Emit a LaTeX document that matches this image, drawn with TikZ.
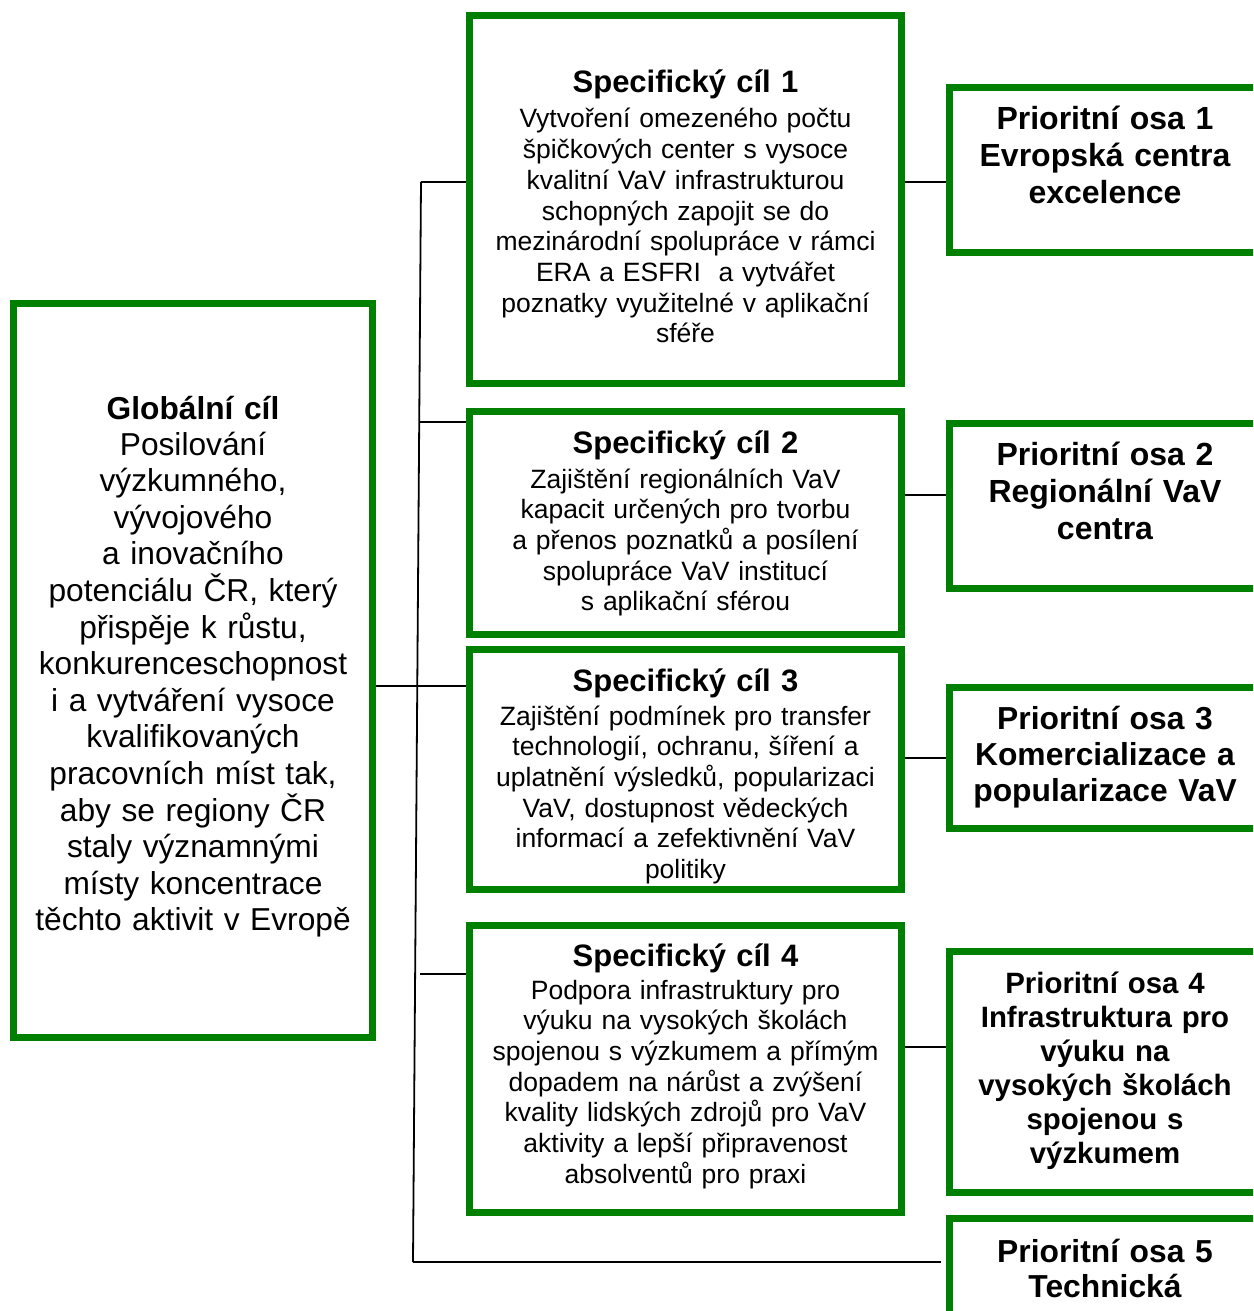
\documentclass[tikz,border=0pt]{standalone}
\usepackage{fontspec}
\setmainfont{Liberation Sans}
\definecolor{boxgreen}{RGB}{0,128,0}
\tikzset{
  gbox/.style={draw=boxgreen, line width=7pt, rectangle, inner sep=0pt, fill=white},
  conn/.style={draw=black, line width=1.8pt},
  sctitle/.style={anchor=base, align=center, text width=430pt, inner sep=0pt, font=\fontsize{31}{36}\selectfont\bfseries},
  scbody/.style={anchor=base, align=center, text width=430pt, inner sep=0pt, font=\fontsize{26.5}{30.7}\selectfont},
  gtitle/.style={anchor=base, align=center, text width=400pt, inner sep=0pt, font=\fontsize{31.7}{36.6}\selectfont\bfseries},
  gbody/.style={anchor=base, align=center, text width=400pt, inner sep=0pt, font=\fontsize{31.7}{36.6}\selectfont},
  potext/.style={anchor=base, align=center, text width=300pt, inner sep=0pt, font=\fontsize{32}{37}\selectfont\bfseries},
}
\begin{document}
\begin{tikzpicture}[x=1pt,y=-1pt]
\useasboundingbox (0,0) rectangle (1253,1311);
\clip (0,0) rectangle (1253,1311);

% boxes
\node[gbox, minimum width=359pt, minimum height=734pt] (g) at (193,670.5) {};
\node[gbox, minimum width=432pt, minimum height=368pt] (sc1) at (685.5,199.5) {};
\node[gbox, minimum width=432pt, minimum height=223pt] (sc2) at (685.5,523) {};
\node[gbox, minimum width=432pt, minimum height=240pt] (sc3) at (685.5,769.5) {};
\node[gbox, minimum width=432pt, minimum height=287pt] (sc4) at (685.5,1069) {};
\node[gbox, minimum width=310.5pt, minimum height=165pt] (po1) at (1104.75,170) {};
\node[gbox, minimum width=310.5pt, minimum height=165pt] (po2) at (1104.75,506) {};
\node[gbox, minimum width=310.5pt, minimum height=141pt] (po3) at (1104.75,758) {};
\node[gbox, minimum width=310.5pt, minimum height=241pt] (po4) at (1104.75,1072) {};
\node[gbox, minimum width=310.5pt, minimum height=111.5pt] (po5) at (1104.75,1274) {};

% junction coordinates
\coordinate (t1) at (421,182);
\coordinate (t2) at (419.2,422);
\coordinate (t3) at (417.3,686);
\coordinate (t4) at (420,974);
\coordinate (t5) at (413,1262);
\coordinate (e5) at (941,1262);
\coordinate (y1) at (0,182);
\coordinate (y2) at (0,495);
\coordinate (y3) at (0,758);
\coordinate (y4) at (0,1047);

% connectors
\draw[conn] (t1) -- (t5);
\draw[conn] (t1) -- (sc1.west |- t1);
\draw[conn] (t2) -- (sc2.west |- t2);
\draw[conn] (g.east |- t3) -- (sc3.west |- t3);
\draw[conn] (t4) -- (sc4.west |- t4);
\draw[conn] (t5) -- (e5);
\draw[conn] (sc1.east |- y1) -- (po1.west |- y1);
\draw[conn] (sc2.east |- y2) -- (po2.west |- y2);
\draw[conn] (sc3.east |- y3) -- (po3.west |- y3);
\draw[conn] (sc4.east |- y4) -- (po4.west |- y4);

% texts
\node[gtitle] (gt) at (193,419) {Globální cíl};
\node[gbody] (gb) at (193,455) {Posilování\\výzkumného,\\vývojového\\a inovačního\\potenciálu ČR, který\\přispěje k růstu,\\konkurenceschopnost\\i a vytváření vysoce\\kvalifikovaných\\pracovních míst tak,\\aby se regiony ČR\\staly významnými\\místy koncentrace\\těchto aktivit v Evropě};

\node[sctitle] (sc1t) at (685.5,93) {Specifický cíl 1};
\node[scbody] (sc1b) at (685.5,128) {Vytvoření omezeného počtu\\špičkových center s vysoce\\kvalitní VaV infrastrukturou\\schopných zapojit se do\\mezinárodní spolupráce v rámci\\ERA a ESFRI\ \ a vytvářet\\poznatky využitelné v aplikační\\sféře};

\node[sctitle] (sc2t) at (685.5,453) {Specifický cíl 2};
\node[scbody] (sc2b) at (685.5,488) {Zajištění regionálních VaV\\kapacit určených pro tvorbu\\a přenos poznatků a posílení\\spolupráce VaV institucí\\s aplikační sférou};

\node[sctitle] (sc3t) at (685.5,691) {Specifický cíl 3};
\node[scbody] (sc3b) at (685.5,725) {Zajištění podmínek pro transfer\\technologií, ochranu, šíření a\\uplatnění výsledků, popularizaci\\VaV, dostupnost vědeckých\\informací a zefektivnění VaV\\politiky};

\node[sctitle] (sc4t) at (685.5,966) {Specifický cíl 4};
\node[scbody] (sc4b) at (685.5,999) {Podpora infrastruktury pro\\výuku na vysokých školách\\spojenou s výzkumem a přímým\\dopadem na nárůst a zvýšení\\kvality lidských zdrojů pro VaV\\aktivity a lepší připravenost\\absolventů pro praxi};

\node[potext] (po1t) at (1105,129) {Prioritní osa 1\\Evropská centra\\excelence};
\node[potext] (po2t) at (1105,465) {Prioritní osa 2\\Regionální VaV\\centra};
\node[potext, font=\fontsize{31.8}{36}\selectfont\bfseries] (po3t) at (1105,729) {Prioritní osa 3\\Komercializace a\\popularizace VaV};
\node[potext, font=\fontsize{29.4}{34}\selectfont\bfseries] (po4t) at (1105,993) {Prioritní osa 4\\Infrastruktura pro\\výuku na\\vysokých školách\\spojenou s\\výzkumem};
\node[potext, font=\fontsize{31.8}{35}\selectfont\bfseries] (po5t) at (1105,1262) {Prioritní osa 5\\Technická};
\end{tikzpicture}
\end{document}
